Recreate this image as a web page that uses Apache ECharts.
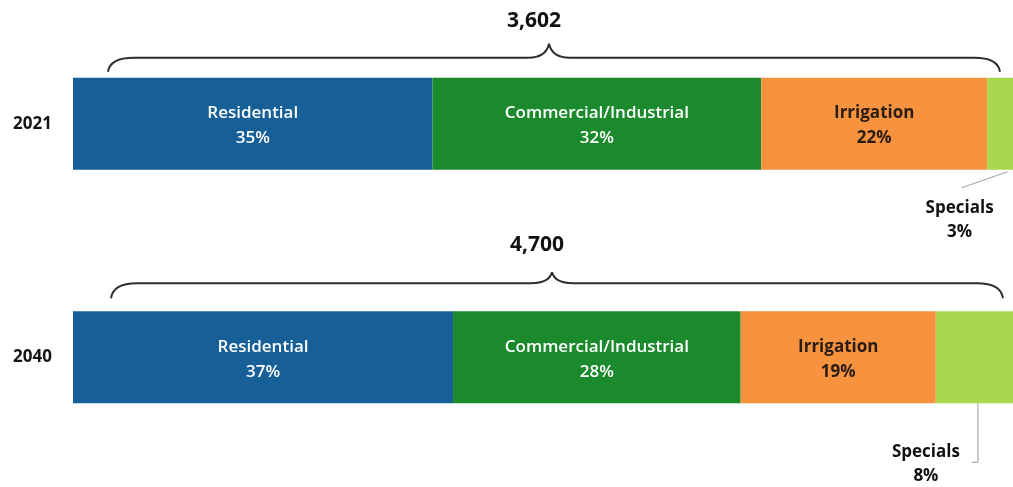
<!DOCTYPE html>
<html>
<head>
<meta charset="utf-8">
<style>
  html, body { margin: 0; padding: 0; background: #ffffff; }
  #chart { width: 1013px; height: 487px; }
</style>
<script src="https://cdn.jsdelivr.net/npm/echarts@6/dist/echarts.min.js"></script>
</head>
<body>
<div id="chart"></div>
<script>
// Demand by customer class, share of total
const years = ['2021', '2040'];
const totals = [3602, 4700];
const sectorNames = ['Residential', 'Commercial/Industrial', 'Irrigation', 'Specials'];
const residential = [35, 37];
const commercial = [32, 28];
const irrigation = [22, 19];
const specials = [3, 8];

const sectorValues = [residential, commercial, irrigation, specials];
const sectorColors = ['#165f97', '#1b8a2c', '#f7933f', '#a8d84e'];
const sectorTextColors = ['#ffffff', '#ffffff', '#2a1c12', '#111111'];
const sectorTextWeights = [600, 600, 700, 700];
const sums = years.map((_, i) => sectorValues.reduce((s, arr) => s + arr[i], 0));
const FONT = '"Open Sans", "Noto Sans", sans-serif';
const BAR_H = 92;

// per-year placement of the brace and the "Specials" callout
const braceLayout = [
  { tip: 6, flat: 20, peak: 34, label: 57, inset: 35, outset: 18 },
  { tip: 13, flat: 28, peak: 39, label: 66, inset: 38, outset: 15 }
];
const calloutLayout = [
  { from: [5, 2], to: [-41, 18], hook: null, text: [-43, 50] },
  { from: [1, 0], to: [1, 59], hook: -6, text: [-51, 61] }
];

const barSeries = sectorNames.map((name, k) => ({
  name: name,
  type: 'bar',
  stack: 'share',
  barWidth: BAR_H,
  itemStyle: { color: sectorColors[k] },
  label: {
    show: k < 3,
    position: 'inside',
    offset: [0, 2],
    formatter: p => p.seriesName + '\n' + p.value + '%',
    color: sectorTextColors[k],
    fontFamily: FONT,
    fontWeight: sectorTextWeights[k],
    fontSize: 17,
    lineHeight: 25
  },
  emphasis: { disabled: true },
  data: sectorValues[k]
}));

function annotate(params, api) {
  const i = params.dataIndex;
  const sum = api.value(0);
  const start = api.coord([0, i]);
  const end = api.coord([sum, i]);
  const top = start[1] - BAR_H / 2;
  const bottom = start[1] + BAR_H / 2;
  const b = braceLayout[i];
  const L = start[0] + b.inset, R = end[0] - b.outset;
  const P = (L + R) / 2 - 5;
  const tipY = top - b.tip, flatY = top - b.flat, peakY = top - b.peak;
  const stroke = { stroke: '#2e2e2e', lineWidth: 2, fill: null };
  const children = [
    { type: 'bezierCurve', shape: { x1: L, y1: tipY, cpx1: L + 2, cpy1: flatY, x2: L + 26, y2: flatY }, style: stroke },
    { type: 'line', shape: { x1: L + 26, y1: flatY, x2: P - 21, y2: flatY }, style: stroke },
    { type: 'bezierCurve', shape: { x1: P - 21, y1: flatY, cpx1: P - 3, cpy1: flatY, x2: P, y2: peakY }, style: stroke },
    { type: 'bezierCurve', shape: { x1: P, y1: peakY, cpx1: P + 3, cpy1: flatY, x2: P + 21, y2: flatY }, style: stroke },
    { type: 'line', shape: { x1: P + 21, y1: flatY, x2: R - 26, y2: flatY }, style: stroke },
    { type: 'bezierCurve', shape: { x1: R - 26, y1: flatY, cpx1: R - 2, cpy1: flatY, x2: R, y2: tipY }, style: stroke },
    {
      type: 'text',
      style: {
        x: P - 15, y: top - b.label,
        text: api.value(2).toLocaleString('en-US'),
        align: 'center', verticalAlign: 'middle',
        fill: '#111111', fontFamily: FONT, fontWeight: 700, fontSize: 21
      }
    }
  ];
  // callout for the small "Specials" share
  const sp = api.value(3);
  const mid = api.coord([sum - sp / 2, i]);
  const c = calloutLayout[i];
  const x0 = mid[0] + c.from[0], y0 = bottom + c.from[1];
  const x1 = mid[0] + c.to[0], y1 = bottom + c.to[1];
  const lead = { stroke: '#a8a8a8', lineWidth: 1.2, fill: null };
  children.push({ type: 'line', shape: { x1: x0, y1: y0, x2: x1, y2: y1 }, style: lead });
  if (c.hook !== null) {
    children.push({ type: 'line', shape: { x1: x1, y1: y1, x2: x1 + c.hook, y2: y1 }, style: lead });
  }
  children.push({
    type: 'text',
    style: {
      x: mid[0] + c.text[0], y: bottom + c.text[1],
      text: sectorNames[3] + '\n' + sp + '%',
      align: 'center', verticalAlign: 'middle',
      lineHeight: 24,
      fill: '#111111', fontFamily: FONT, fontWeight: 700, fontSize: 17
    }
  });
  return { type: 'group', children: children };
}

const chart = echarts.init(document.getElementById('chart'), null, { renderer: 'canvas' });
chart.setOption({
  animation: false,
  backgroundColor: '#ffffff',
  grid: { left: 73, right: -5, top: 7, bottom: 13, outerBoundsMode: 'none' },
  xAxis: {
    type: 'value', min: 0, max: Math.max(...sums),
    show: false
  },
  yAxis: {
    type: 'category',
    data: years,
    inverse: true,
    axisLine: { show: false },
    axisTick: { show: false },
    splitLine: { show: false },
    axisLabel: {
      margin: 21,
      color: '#151515',
      fontFamily: FONT,
      fontWeight: 700,
      fontSize: 17
    }
  },
  series: barSeries.concat([{
    type: 'custom',
    renderItem: annotate,
    silent: true,
    z: 10,
    data: years.map((_, i) => [sums[i], i, totals[i], specials[i]])
  }])
});
</script>
</body>
</html>
